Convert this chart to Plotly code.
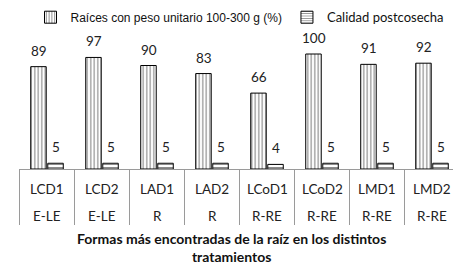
import plotly.graph_objects as go

categories = ["LCD1", "LCD2", "LAD1", "LAD2", "LCoD1", "LCoD2", "LMD1", "LMD2"]
formas = ["E-LE", "E-LE", "R", "R", "R-RE", "R-RE", "R-RE", "R-RE"]
raices = [89, 97, 90, 83, 66, 100, 91, 92]
calidad = [5, 5, 5, 5, 4, 5, 5, 5]
series_names = ["Raíces con peso unitario 100-300 g (%)", "Calidad postcosecha"]

FONT = "Lato, 'Open Sans', sans-serif"
GRAY = "#9a9a9a"

fig = go.Figure()
fig.add_trace(go.Bar(
    x=categories, y=raices, name=series_names[0],
    marker=dict(color="white", line=dict(color="black", width=1),
                pattern=dict(shape="|", fgcolor="black", bgcolor="white", size=3.5, solidity=0.3)),
))
fig.add_trace(go.Bar(
    x=categories, y=calidad,
    name="<span style='font-family:Lato;font-size:13px'>" + series_names[1] + "</span>",
    marker=dict(color="white", line=dict(color="black", width=1),
                pattern=dict(shape="-", fgcolor="black", bgcolor="white", size=3, solidity=0.3)),
))

annotations = []
for c, v in zip(categories, raices):
    annotations.append(dict(x=c, y=v, xref="x", yref="y", text=str(v), showarrow=False,
                            xshift=-8.5, yshift=6, yanchor="bottom",
                            font=dict(family=FONT, size=13.5, color="#222")))
for c, v in zip(categories, calidad):
    annotations.append(dict(x=c, y=v, xref="x", yref="y", text=str(v), showarrow=False,
                            xshift=9, yshift=6, yanchor="bottom",
                            font=dict(family=FONT, size=13.5, color="#222")))
for c, f in zip(categories, formas):
    annotations.append(dict(x=c, y=0, xref="x", yref="paper", text=c, showarrow=False,
                            yshift=-20, yanchor="middle",
                            font=dict(family=FONT, size=13.5, color="#222")))
    annotations.append(dict(x=c, y=0, xref="x", yref="paper", text=f, showarrow=False,
                            yshift=-47, yanchor="middle",
                            font=dict(family=FONT, size=13.5, color="#222")))
annotations.append(dict(x=0.5, y=0, xref="paper", yref="paper", showarrow=False,
                        text="<b>Formas más encontradas de la raíz en los distintos<br>tratamientos</b>",
                        xshift=-8, yshift=-78, yanchor="middle",
                        font=dict(family=FONT, size=14, color="#111")))

shapes = []
for i in range(len(categories) + 1):
    shapes.append(dict(type="line", xref="x", yref="paper", x0=i - 0.5, x1=i - 0.5,
                       ysizemode="pixel", yanchor=0, y0=0, y1=-56,
                       line=dict(color=GRAY, width=1)))

fig.update_layout(
    width=461, height=265,
    margin=dict(l=11, r=9, t=23, b=104, autoexpand=False),
    paper_bgcolor="white", plot_bgcolor="white",
    barmode="group", bargap=0.38, bargroupgap=0.09,
    showlegend=True,
    legend=dict(orientation="h", x=0.5, xanchor="center", y=1.1, yanchor="middle",
                font=dict(family="Liberation Sans, Arial, sans-serif", size=12, color="#111"),
                bgcolor="rgba(0,0,0,0)", itemwidth=30, tracegroupgap=0),
    xaxis=dict(showticklabels=False, ticks="", showline=True, linecolor=GRAY, linewidth=1,
               showgrid=False, zeroline=False),
    yaxis=dict(visible=False, range=[0, 120], showgrid=False, zeroline=False),
    annotations=annotations,
    shapes=shapes,
)

fig.write_html("out.html")
